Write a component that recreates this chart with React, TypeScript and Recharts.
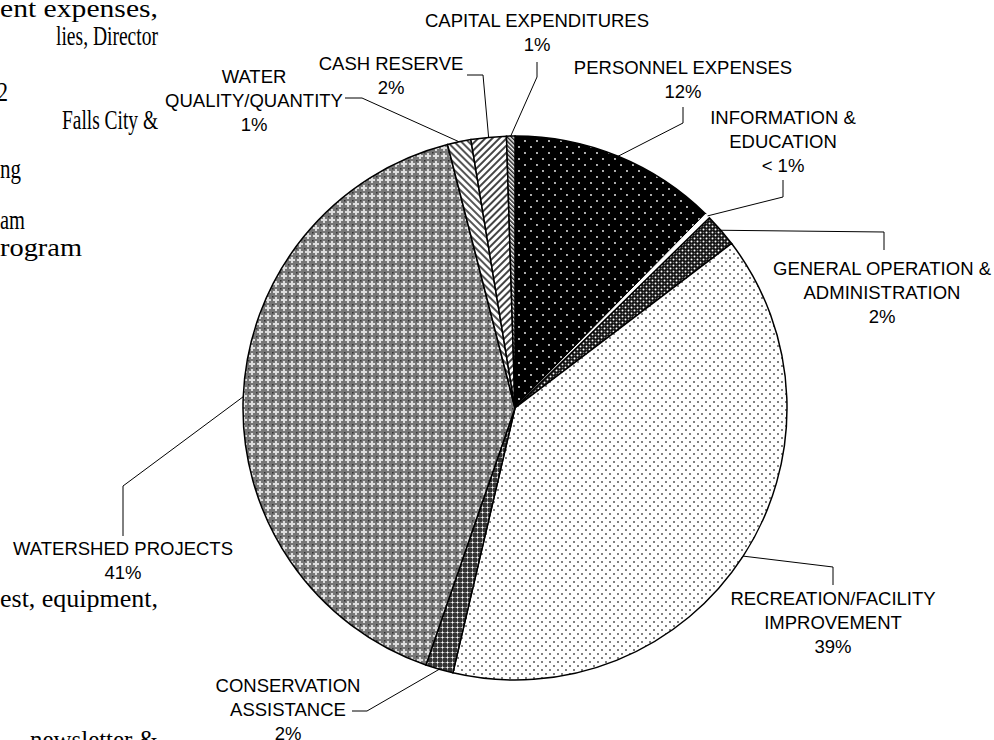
import React from "react";
import { PieChart, Pie, Cell } from "recharts";

// slices clockwise from 12 o'clock
const categories = [
  "PERSONNEL EXPENSES",
  "INFORMATION & EDUCATION",
  "GENERAL OPERATION & ADMINISTRATION",
  "RECREATION/FACILITY IMPROVEMENT",
  "CONSERVATION ASSISTANCE",
  "WATERSHED PROJECTS",
  "WATER QUALITY/QUANTITY",
  "CASH RESERVE",
  "CAPITAL EXPENDITURES",
];
const shares = [12.4, 0.3, 2.0, 39.1, 1.65, 40.8, 1.4, 2.1, 0.5];
const shareLabels = ["12%", "< 1%", "2%", "39%", "2%", "41%", "1%", "2%", "1%"];
const labelLines = [
  ["PERSONNEL EXPENSES"],
  ["INFORMATION &", "EDUCATION"],
  ["GENERAL OPERATION &", "ADMINISTRATION"],
  ["RECREATION/FACILITY", "IMPROVEMENT"],
  ["CONSERVATION", "ASSISTANCE"],
  ["WATERSHED PROJECTS"],
  ["WATER", "QUALITY/QUANTITY"],
  ["CASH RESERVE"],
  ["CAPITAL EXPENDITURES"],
];

const data = categories.map((name, i) => ({ name, value: shares[i] }));

const fills = [
  "url(#pPers)",
  "#ffffff",
  "url(#pGen)",
  "url(#pRec)",
  "url(#pCons)",
  "url(#pWs)",
  "url(#pWq)",
  "url(#pCash)",
  "url(#pCap)",
];

// label placement: text centre x, first baseline, leader bend points
const layout: { x: number; y: number; leader: number[][] }[] = [
  { x: 683, y: 73.5, leader: [[683, 107], [683, 123]] },
  { x: 783, y: 123.5, leader: [[783, 180], [783, 197]] },
  { x: 882, y: 274.5, leader: [[884, 250], [884, 232]] },
  { x: 833, y: 604.5, leader: [[833, 585], [833, 567]] },
  { x: 288, y: 692, leader: [[352, 711], [367, 711]] },
  { x: 123, y: 554.5, leader: [[123, 536], [123, 486]] },
  { x: 254, y: 82.5, leader: [[345, 98], [362, 98]] },
  { x: 391, y: 69.5, leader: [[467, 75], [483, 75]] },
  { x: 537, y: 27, leader: [[537, 62], [537, 77]] },
];

// scanned body text at the left edge of the page
const bodyText = [
  { t: "ent expenses,", x: 0, y: 17, w: 158, fs: 26 },
  { t: "lies, Director", x: 56, y: 45, w: 102, fs: 27 },
  { t: "2", x: -3, y: 101, w: 11, fs: 27 },
  { t: "Falls City &", x: 62, y: 129, w: 96, fs: 27 },
  { t: "ng", x: 0, y: 178, w: 21, fs: 27 },
  { t: "am", x: 0, y: 229, w: 25, fs: 27 },
  { t: "rogram", x: 0, y: 256, w: 82, fs: 26 },
  { t: "est, equipment,", x: 0, y: 607, w: 158, fs: 25 },
  { t: "newsletter &", x: 30, y: 748, w: 128, fs: 25 },
];

const RAD = Math.PI / 180;
const LH = 24;

const renderLabel = (props: any) => {
  const { cx, cy, midAngle, outerRadius, index } = props;
  const lay = layout[index];
  const ex = cx + outerRadius * Math.cos(-midAngle * RAD);
  const ey = cy + outerRadius * Math.sin(-midAngle * RAD);
  const pts = [...lay.leader, [ex, ey]].map((p) => p.join(",")).join(" ");
  const lines = [...labelLines[index], shareLabels[index]];
  return (
    <g key={`lbl-${index}`}>
      <polyline points={pts} fill="none" stroke="#000" strokeWidth={1} />
      {lines.map((l, k) => (
        <text
          key={k}
          x={lay.x}
          y={lay.y + k * LH}
          textAnchor="middle"
          fontFamily="'Liberation Sans', Arial, sans-serif"
          fontSize={18.5}
          fill="#000"
        >
          {l}
        </text>
      ))}
    </g>
  );
};

export default function App() {
  return (
    <div
      style={{
        position: "absolute",
        left: 0,
        top: 0,
        width: 994,
        height: 740,
        overflow: "hidden",
        background: "#fff",
      }}
    >
      <svg width={994} height={740} style={{ position: "absolute", left: 0, top: 0 }}>
        {bodyText.map((b, i) => (
          <text
            key={i}
            x={b.x}
            y={b.y}
            textLength={b.w}
            lengthAdjust="spacingAndGlyphs"
            fontFamily="'Liberation Serif', 'Times New Roman', serif"
            fontSize={b.fs}
            fill="#000"
          >
            {b.t}
          </text>
        ))}
      </svg>
      <div style={{ position: "absolute", left: 0, top: 0 }}>
        <PieChart width={994} height={740}>
          <defs>
            <pattern id="pPers" width="12" height="12" patternUnits="userSpaceOnUse">
              <rect width="12" height="12" fill="#000" />
              <circle cx="3" cy="3" r="0.9" fill="#fff" />
              <circle cx="9" cy="9" r="0.9" fill="#fff" />
            </pattern>
            <pattern id="pGen" width="6" height="6" patternUnits="userSpaceOnUse">
              <rect width="6" height="6" fill="#111" />
              <circle cx="1.5" cy="1.5" r="1" fill="#fff" />
              <circle cx="4.5" cy="4.5" r="1" fill="#fff" />
              <circle cx="4.5" cy="1.5" r="0.8" fill="#777" />
              <circle cx="1.5" cy="4.5" r="0.8" fill="#777" />
            </pattern>
            <pattern id="pCons" width="5" height="5" patternUnits="userSpaceOnUse">
              <rect width="5" height="5" fill="#333" />
              <rect x="2" y="0.5" width="1" height="4" fill="#bbb" />
              <rect x="0.5" y="2" width="4" height="1" fill="#bbb" />
              <rect x="2" y="2" width="1" height="1" fill="#fff" />
            </pattern>
            <pattern id="pRec" width="8" height="8" patternUnits="userSpaceOnUse">
              <rect width="8" height="8" fill="#fff" />
              <circle cx="2" cy="2" r="1" fill="#555" />
              <circle cx="6" cy="6" r="1" fill="#555" />
            </pattern>
            <pattern id="pWs" width="8" height="8" patternUnits="userSpaceOnUse">
              <rect width="8" height="8" fill="#777" />
              <rect x="3" y="1" width="2" height="6" fill="#ddd" />
              <rect x="1" y="3" width="6" height="2" fill="#ddd" />
              <rect x="0" y="0" width="1.5" height="1.5" fill="#333" />
            </pattern>
            <pattern
              id="pWq"
              width="5"
              height="5"
              patternUnits="userSpaceOnUse"
              patternTransform="rotate(-45)"
            >
              <rect width="5" height="5" fill="#fff" />
              <rect width="2" height="5" fill="#555" />
            </pattern>
            <pattern
              id="pCash"
              width="5"
              height="5"
              patternUnits="userSpaceOnUse"
              patternTransform="rotate(45)"
            >
              <rect width="5" height="5" fill="#fff" />
              <rect width="2" height="5" fill="#444" />
            </pattern>
            <pattern
              id="pCap"
              width="3"
              height="3"
              patternUnits="userSpaceOnUse"
              patternTransform="rotate(-45)"
            >
              <rect width="3" height="3" fill="#fff" />
              <rect width="1.5" height="3" fill="#222" />
            </pattern>
          </defs>
          <Pie
            data={data}
            dataKey="value"
            nameKey="name"
            cx={510}
            cy={403}
            outerRadius={272}
            startAngle={90}
            endAngle={-270}
            stroke="#000"
            strokeWidth={1.5}
            label={renderLabel}
            labelLine={false}
            isAnimationActive={false}
          >
            {data.map((d, i) => (
              <Cell
                key={d.name}
                fill={fills[i]}
                stroke={i === 1 ? "#fff" : "#000"}
                strokeWidth={i === 1 ? 1 : 1.5}
              />
            ))}
          </Pie>
        </PieChart>
      </div>
    </div>
  );
}
